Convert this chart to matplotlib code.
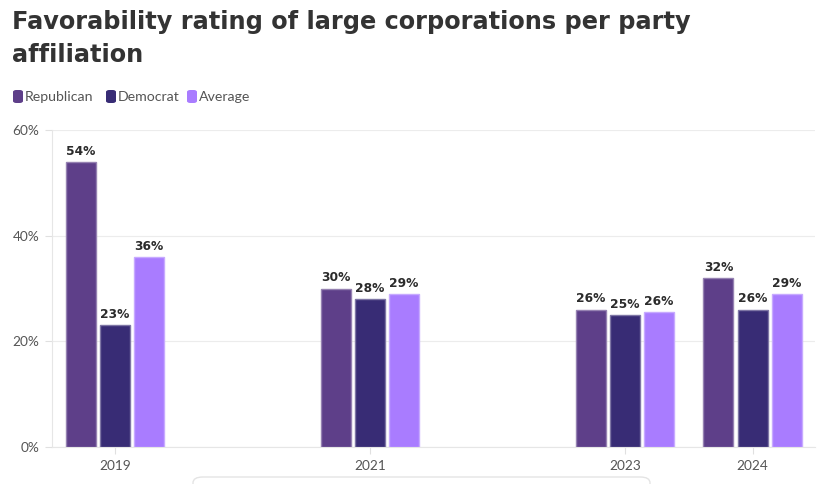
import matplotlib.pyplot as plt
import numpy as np
from matplotlib.patches import FancyBboxPatch
from matplotlib.colors import to_rgb

years = [2019, 2021, 2023, 2024]
republican = [54, 30, 26, 32]
democrat = [23, 28, 25, 26]
average = [36, 29, 25.5, 29]
series_names = ['Republican', 'Democrat', 'Average']
series_colors = ['#5e3f89', '#382c75', '#a97cff']
y_ticks = [0, 20, 40, 60]
title_lines = ['Favorability rating of large corporations per party', 'affiliation']

W, H = 825, 484
plt.rcParams['font.family'] = ['Lato', 'DejaVu Sans']

fig = plt.figure(figsize=(W / 100, H / 100), dpi=100)
fig.patch.set_facecolor('white')


def px(x, y):
    """pixel (from top-left) -> figure coords"""
    return x / W, 1 - y / H


left, right, top, bottom = 52, 815, 130, 447
ax = fig.add_axes([left / W, 1 - bottom / H, (right - left) / W, (bottom - top) / H])

bar_w = 0.235
step = 0.267
x = np.array(years, dtype=float)


def lighten(c, f=0.35):
    r = np.array(to_rgb(c))
    return tuple(r + (1 - r) * f)


for i, (vals, name, col) in enumerate(zip([republican, democrat, average], series_names, series_colors)):
    xs = x + (i - 1) * step
    bars = ax.bar(xs, vals, width=bar_w, color=col, edgecolor=lighten(col), linewidth=1.0,
                  label=name, zorder=3)
    for b, v in zip(bars, vals):
        ax.annotate(f"{v:.0f}%", (b.get_x() + b.get_width() / 2, b.get_height()),
                    xytext=(0, 3), textcoords='offset points', ha='center', va='bottom',
                    fontsize=8.8, fontweight='bold', color='#2b2b2b', family='DejaVu Sans')

ax.set_xlim(2018.506, 2024.49)
ax.set_ylim(0, 60)
ax.set_yticks(y_ticks)
ax.set_yticklabels([f"{t}%" for t in y_ticks])
ax.set_xticks(years)
ax.set_xticklabels([str(y) for y in years])
ax.grid(axis='y', color='#ececec', linewidth=0.8, zorder=0)
for s in ['top', 'right']:
    ax.spines[s].set_visible(False)
for s in ['left', 'bottom']:
    ax.spines[s].set_color('#e6e6e6')
    ax.spines[s].set_linewidth(0.8)
ax.tick_params(axis='both', colors='#e0e0e0', labelcolor='#555555', labelsize=9.8,
               length=5, width=0.8)
ax.tick_params(axis='x', pad=4)
ax.tick_params(axis='y', pad=4)

# title, sized so the first line spans the same width as the reference
t1 = fig.text(*px(12, 22), title_lines[0], fontsize=19, fontweight='bold', color='#333333',
              va='center', ha='left', family='DejaVu Sans')
fig.canvas.draw()
w1 = t1.get_window_extent().width
fs = 19 * 678 / w1
t1.set_fontsize(fs)
fig.text(*px(12, 55), title_lines[1], fontsize=fs, fontweight='bold', color='#333333',
         va='center', ha='left', family='DejaVu Sans')

# legend
leg_x = [13, 106, 187]
for lx, name, col in zip(leg_x, series_names, series_colors):
    fx, fy = px(lx, 103)
    fig.patches.append(FancyBboxPatch((fx, fy), 10 / W, 13 / H,
                                      boxstyle='round,pad=0,rounding_size=0.004',
                                      transform=fig.transFigure, facecolor=col,
                                      edgecolor='none'))
    fig.text(*px(lx + 12, 97), name, fontsize=10.2, color='#555555', va='center', ha='left')

# partial panel at bottom
sx, sy = px(193, 477)
fig.patches.append(FancyBboxPatch((sx, sy - 30 / H), (650 - 193) / W, 30 / H,
                                  boxstyle='round,pad=0,rounding_size=0.012',
                                  transform=fig.transFigure, facecolor='white',
                                  edgecolor='#e4e4e4', linewidth=1.0))

fig.savefig('out.png', dpi=100, facecolor='white')
